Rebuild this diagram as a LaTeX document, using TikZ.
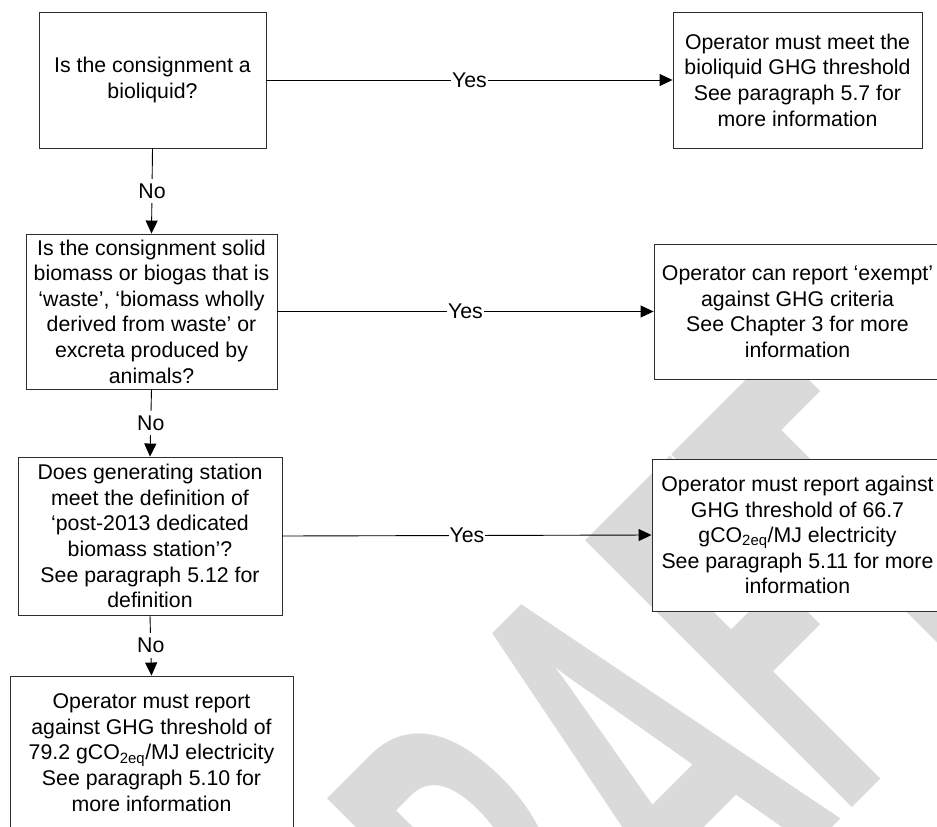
\documentclass[tikz,border=0pt]{standalone}
\usepackage{fontspec}
\setmainfont{Liberation Sans}
\newfontfamily\wmfont{Carlito}
\usetikzlibrary{arrows.meta}
\definecolor{wmgray}{RGB}{218,218,218}
\definecolor{linegray}{RGB}{45,45,45}
\begin{document}
\begin{tikzpicture}[x=1pt,y=-1pt,
  box/.style={draw=linegray, line width=0.9pt, fill=white, inner sep=0pt, align=center, font=\fontsize{21.3}{25.6}\selectfont},
  lbl/.style={fill=white, inner xsep=1pt, inner ysep=5pt, font=\fontsize{21.3}{25.6}\selectfont},
  conn/.style={draw=black, line width=0.9pt},
  arr/.style={conn, -{Triangle[length=13pt,width=12pt]}}
]
\useasboundingbox (0,0) rectangle (937,827);
\begin{scope}
\clip (0,0) rectangle (937,827);
\node[rotate=45, anchor=base west, text=wmgray, inner sep=0pt, font=\wmfont\bfseries\fontsize{582}{582}\selectfont] (wm) at (441,1219) {\scalebox{0.54}[1]{DRAF\kern-0.03em T}};
\node[box, minimum width=227pt, minimum height=136pt] (b1) at (152.5,80) {Is the consignment a\\bioliquid?};
\node[box, minimum width=251pt, minimum height=155pt] (b2) at (151.5,311.5) {Is the consignment solid\\biomass or biogas that is\\‘waste’, ‘biomass wholly\\derived from waste’ or\\excreta produced by\\animals?};
\node[box, minimum width=249pt, minimum height=136pt] (b3) at (797.5,80) {Operator must meet the\\bioliquid GHG threshold\\See paragraph 5.7 for\\more information};
\node[box, minimum width=287pt, minimum height=135pt] (b4) at (797.5,311.5) {Operator can report ‘exempt’\\against GHG criteria\\See Chapter 3 for more\\information};
\node[box, minimum width=264pt, minimum height=158pt] (b5) at (150,536) {Does generating station\\meet the definition of\\‘post-2013 dedicated\\biomass station’?\\See paragraph 5.12 for\\definition};
\node[box, minimum width=283pt, minimum height=153pt] (b6) at (151.5,752.5) {Operator must report\\against GHG threshold of\\79.2 gCO\textsubscript{2eq}/MJ electricity\\See paragraph 5.10 for\\more information};
\node[box, minimum width=291pt, minimum height=152pt] (b7) at (797.5,535) {Operator must report against\\GHG threshold of 66.7\\gCO\textsubscript{2eq}/MJ electricity\\See paragraph 5.11 for more\\information};
\draw[arr] (b1.east) -- node[lbl]{Yes} (b3.west);
\draw[arr] (b2.east) -- node[lbl]{Yes} (b4.west);
\draw[arr] (b5.east) -- node[lbl]{Yes} (b7.west);
\draw[arr] (b1.south) -- node[lbl]{No} (b2.north);
\draw[arr] (b2.south) -- node[lbl]{No} (b5.north);
\draw[arr] (b5.south) -- node[lbl]{No} (b6.north);
\end{scope}
\end{tikzpicture}
\end{document}
